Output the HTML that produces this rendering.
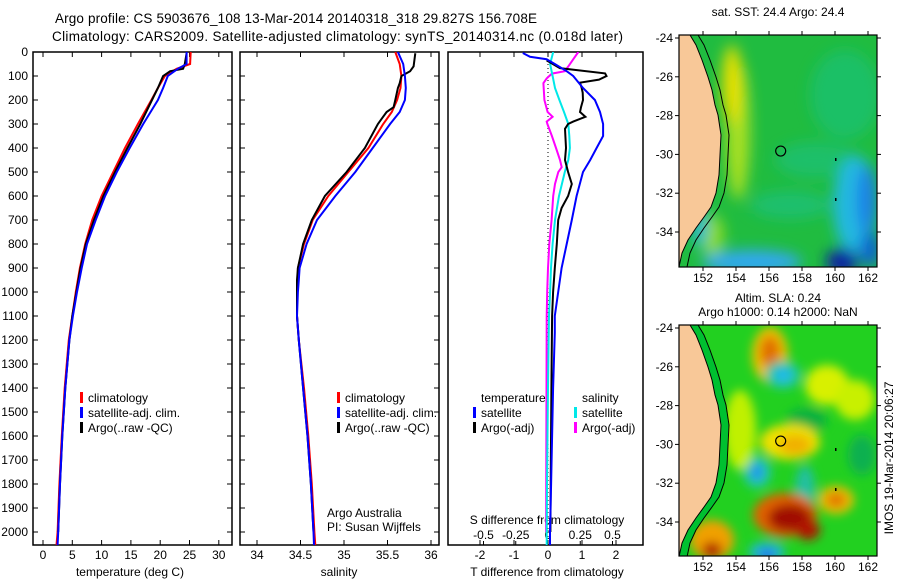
<!DOCTYPE html>
<html><head><meta charset="utf-8"><style>
html,body{margin:0;padding:0;background:#fff}
svg{display:block;font-family:"Liberation Sans",sans-serif}
text{font-size:12px;fill:#000}
</style></head><body>
<svg id="fig" width="900" height="580" viewBox="0 0 900 580">
<defs>
<filter id="blur1" x="-50%" y="-50%" width="200%" height="200%"><feGaussianBlur stdDeviation="7"/></filter>
<filter id="blur2" x="-50%" y="-50%" width="200%" height="200%"><feGaussianBlur stdDeviation="5"/></filter>
<clipPath id="cm1"><rect x="679" y="35" width="198" height="232"/></clipPath>
<clipPath id="cm2"><rect x="679" y="325" width="198" height="231"/></clipPath>
<clipPath id="cp1"><rect x="33" y="52" width="199" height="493"/></clipPath>
<clipPath id="cp2"><rect x="240" y="52" width="199" height="493"/></clipPath>
<clipPath id="cp3"><rect x="448" y="52" width="195" height="493"/></clipPath>
</defs>
<text x="55" y="23" style="font-size:13.5px" textLength="482">Argo profile: CS 5903676_108 13-Mar-2014 20140318_318 29.827S 156.708E</text>
<text x="52" y="41" style="font-size:13.5px" textLength="571">Climatology: CARS2009. Satellite-adjusted climatology: synTS_20140314.nc (0.018d later)</text>

<g id="p1"></g>
<g id="p2"></g>
<g id="p3"></g>

<!-- Map 1: SST -->
<g>
<text x="778" y="16" text-anchor="middle">sat. SST: 24.4  Argo: 24.4</text>
<g clip-path="url(#cm1)">
<rect x="679" y="35" width="198" height="232" fill="#20bc40"/>
<g filter="url(#blur1)">
<ellipse cx="845" cy="95" rx="35" ry="45" fill="#18c070" opacity="0.8"/>
<ellipse cx="815" cy="160" rx="40" ry="18" fill="#18c07a" opacity="0.7"/>
<ellipse cx="790" cy="205" rx="40" ry="14" fill="#18c080" opacity="0.7"/>
<ellipse cx="855" cy="205" rx="22" ry="50" fill="#20b8e0"/>
<ellipse cx="867" cy="200" rx="10" ry="35" fill="#1a80e8"/>
<ellipse cx="752" cy="262" rx="50" ry="12" fill="#30a8f0"/>
<ellipse cx="842" cy="262" rx="16" ry="14" fill="#0a20a0"/>
<ellipse cx="870" cy="250" rx="10" ry="18" fill="#1060d0"/>
<ellipse cx="738" cy="130" rx="12" ry="70" fill="#a8e020"/>
<ellipse cx="732" cy="85" rx="10" ry="40" fill="#e8e000"/>
<ellipse cx="712" cy="235" rx="12" ry="20" fill="#90dc20"/>
<ellipse cx="700" cy="228" rx="8" ry="20" fill="#20b8d0"/>
</g>
</g>
</g>
<!-- Map 2: SLA -->
<g>
<text x="778" y="302" text-anchor="middle">Altim. SLA: 0.24</text>
<text x="778" y="316" text-anchor="middle">Argo h1000: 0.14 h2000: NaN</text>
<g clip-path="url(#cm2)">
<rect x="679" y="325" width="198" height="231" fill="#22d020"/>
<g filter="url(#blur2)">
<ellipse cx="770" cy="355" rx="18" ry="28" fill="#f0c000"/>
<ellipse cx="770" cy="352" rx="10" ry="16" fill="#e07000"/>
<ellipse cx="827" cy="385" rx="22" ry="20" fill="#d8f000"/>
<ellipse cx="783" cy="375" rx="18" ry="14" fill="#20c8a0"/>
<ellipse cx="783" cy="375" rx="8" ry="7" fill="#20b8f0"/>
<ellipse cx="807" cy="420" rx="20" ry="12" fill="#10b040"/>
<ellipse cx="790" cy="442" rx="30" ry="18" fill="#f0e000"/>
<ellipse cx="795" cy="445" rx="16" ry="10" fill="#f0b000"/>
<ellipse cx="757" cy="472" rx="14" ry="16" fill="#20c8b0"/>
<ellipse cx="757" cy="472" rx="6" ry="8" fill="#2090f0"/>
<ellipse cx="805" cy="490" rx="10" ry="25" fill="#20c0a0"/>
<ellipse cx="836" cy="500" rx="18" ry="14" fill="#f0c000"/>
<ellipse cx="836" cy="500" rx="10" ry="7" fill="#e07000"/>
<ellipse cx="785" cy="515" rx="32" ry="22" fill="#e06000"/>
<ellipse cx="790" cy="518" rx="22" ry="14" fill="#a01000"/>
<ellipse cx="808" cy="530" rx="12" ry="10" fill="#b01800"/>
<ellipse cx="712" cy="540" rx="22" ry="20" fill="#f0a000"/>
<ellipse cx="712" cy="550" rx="10" ry="8" fill="#b02000"/>
<ellipse cx="767" cy="552" rx="18" ry="10" fill="#20b8d0"/>
<ellipse cx="767" cy="555" rx="8" ry="6" fill="#2070f0"/>
<ellipse cx="862" cy="455" rx="14" ry="20" fill="#10b050"/>
<ellipse cx="855" cy="400" rx="20" ry="20" fill="#c8f000"/>
<ellipse cx="740" cy="430" rx="16" ry="40" fill="#c0f000"/>
</g>
</g>
</g>
<g id="maps"></g>
<text transform="translate(893,458) rotate(-90)" text-anchor="middle">IMOS 19-Mar-2014 20:06:27</text>

<script>
// ---- data ----
const depthTicks=[0,100,200,300,400,500,600,700,800,900,1000,1100,1200,1300,1400,1500,1600,1700,1800,1900,2000];
const tempTicks=[0,5,10,15,20,25,30];
const salTicks=[34,34.5,35,35.5,36];
const salTickLabels=["34","34.5","35","35.5","36"];
const tdiffTicks=[-2,-1,0,1,2];
const sdiffTicks=[-0.5,-0.25,0,0.25,0.5];
const sdiffTickLabels=["-0.5","-0.25","0","0.25","0.5"];

const depthClimT=[0,50,70,100,150,200,300,400,500,600,700,800,900,1000,1100,1200,1400,1600,1800,2000,2054];
const tempClim=[25.2,25.1,22.8,20.8,19.6,18.5,16.2,14.0,12.0,10.0,8.4,7.2,6.3,5.6,5.0,4.4,3.7,3.2,2.8,2.5,2.3];
const tempSat=[24.5,24.5,23.0,21.3,20.5,19.6,17.1,14.8,12.6,10.6,9.0,7.5,6.6,5.8,5.1,4.5,3.8,3.3,2.9,2.6,2.5];
const depthArgoT=[5,50,70,80,100,150,200,300,400,500,600,700,800,900,1000,1100,1200,1400,1600,1800,2000];
const tempArgo=[24.5,24.2,23.9,21.7,20.5,19.6,18.6,16.6,14.4,12.3,10.3,8.7,7.3,6.4,5.7,5.0,4.5,3.8,3.3,2.9,2.6];

const depthClimS=[0,50,100,150,200,250,300,400,500,600,700,800,900,950,1000,1100,1200,1400,1600,1800,2000,2054];
const salClim=[35.59,35.64,35.66,35.65,35.61,35.55,35.45,35.28,35.05,34.82,34.64,34.54,34.47,34.47,34.46,34.46,34.48,34.54,34.59,34.63,34.66,34.67];
const salSat=[35.62,35.68,35.70,35.71,35.70,35.64,35.53,35.33,35.13,34.90,34.69,34.57,34.49,34.48,34.47,34.46,34.48,34.53,34.58,34.62,34.65,34.655];
const depthArgoS=[5,60,80,100,130,150,200,230,250,300,400,500,600,700,800,900,950,1000,1100,1200,1400,1600,1800,2000];
const salArgo=[35.82,35.80,35.76,35.66,35.64,35.62,35.59,35.57,35.49,35.39,35.24,35.03,34.78,34.63,34.53,34.47,34.46,34.46,34.46,34.48,34.53,34.58,34.62,34.65];

const depthTdSat=[4,20,30,50,80,100,150,200,250,300,350,400,450,500,600,700,800,900,1000,1100,1170,1400,1600,1800,2000,2054];
const tdiffSat=[-0.74,-0.53,-0.04,0.2,0.55,0.74,1.03,1.38,1.53,1.62,1.62,1.43,1.24,1.03,0.84,0.7,0.55,0.4,0.3,0.2,0.2,0.15,0.12,0.09,0.06,0.06];
const depthTdArgo=[35,67,89,100,115,128,150,170,200,230,250,270,290,300,320,400,450,500,550,600,650,700,800,900,1000,1100,1400,1800,2000];
const tdiffArgo=[-0.04,0.35,1.68,1.72,1.5,0.94,0.99,1.02,1.03,0.97,0.94,1.1,0.74,0.59,0.5,0.53,0.5,0.59,0.7,0.59,0.4,0.3,0.26,0.2,0.15,0.12,0.1,0.08,0.07];
const depthSdSat=[0,50,100,150,200,250,300,350,400,450,500,600,700,800,900,1000,1100,1400,1800,2054];
const sdiffSat=[0.04,0.016,0.036,0.054,0.088,0.124,0.157,0.165,0.17,0.157,0.13,0.085,0.054,0.036,0.023,0.016,0.008,0.0,-0.008,-0.01];
const depthSdArgo=[0,30,60,80,90,110,130,200,250,270,290,300,350,400,450,480,500,550,600,700,800,900,1000,1100,1400,2000];
const sdiffArgo=[0.235,0.196,0.157,0.13,0.03,-0.01,-0.036,-0.028,-0.003,0.036,-0.01,-0.005,0.03,0.062,0.093,0.106,0.08,0.054,0.04,0.028,0.01,0.0,-0.006,-0.01,-0.012,-0.015];

// ---- axes ----
const yD=d=>52+d*0.24;
const xT=t=>43+t*5.86;
const xS=s=>257+(s-34)*87;
const xTd=t=>548+t*34;
const xSd=s=>548+s*129;
const NS='http://www.w3.org/2000/svg';
function mk(tag,attrs,parent){const e=document.createElementNS(NS,tag);for(const k in attrs)e.setAttribute(k,attrs[k]);parent.appendChild(e);return e;}

function frame(g,x0,x1){
  const r=mk('rect',{x:x0,y:52,width:x1-x0,height:493,fill:'none',stroke:'#000','stroke-width':1.5},g);
  
  
  depthTicks.forEach(d=>{
    mk('line',{x1:x0,x2:x0+5,y1:yD(d),y2:yD(d),stroke:'#000'},g);
    mk('line',{x1:x1-5,x2:x1,y1:yD(d),y2:yD(d),stroke:'#000'},g);
  });
}
function line(g,xs,ds,fx,col,w,name,clip){
  const pts=xs.map((v,i)=>fx(v).toFixed(1)+','+yD(ds[i]).toFixed(1)).join(' ');
  const p=mk('polyline',{points:pts,fill:'none',stroke:col,'stroke-width':w,'stroke-linejoin':'miter','clip-path':'url(#'+clip+')'},g);
  
  
}
function txt(g,x,y,s,anchor,name){const t=mk('text',{x:x,y:y,'text-anchor':anchor||'start'},g);t.textContent=s;
  
  
  return t;}
function legend(g,x,y,col,label){
  mk('rect',{x:x,y:y-10,width:3,height:11,fill:col},g);
  txt(g,x+8,y,label,'start','legend-entry');
}

// Panel 1
const p1=document.getElementById('p1');
frame(p1,33,232);
depthTicks.forEach(d=>txt(p1,28,yD(d)+4,String(d),'end','depth-tick-label'));
tempTicks.forEach(t=>{mk('line',{x1:xT(t),x2:xT(t),y1:545,y2:540,stroke:'#000'},p1);mk('line',{x1:xT(t),x2:xT(t),y1:52,y2:57,stroke:'#000'},p1);txt(p1,xT(t),559,String(t),'middle','temperature-tick-label');});
txt(p1,130,576,'temperature (deg C)','middle','temperature-axis-title');
line(p1,tempClim,depthClimT,xT,'#ff0000',2,'temp-climatology-line','cp1');
line(p1,tempArgo,depthArgoT,xT,'#000000',2,'temp-argo-line','cp1');
line(p1,tempSat,depthClimT,xT,'#0000ff',2,'temp-satellite-line','cp1');
legend(p1,80,402,'#ff0000','climatology');
legend(p1,80,417,'#0000ff','satellite-adj. clim.');
legend(p1,80,432,'#000000','Argo(..raw -QC)');

// Panel 2
const p2=document.getElementById('p2');
frame(p2,240,439);
salTicks.forEach((s,i)=>{mk('line',{x1:xS(s),x2:xS(s),y1:545,y2:540,stroke:'#000'},p2);mk('line',{x1:xS(s),x2:xS(s),y1:52,y2:57,stroke:'#000'},p2);txt(p2,xS(s),559,salTickLabels[i],'middle','salinity-tick-label');});
txt(p2,339,576,'salinity','middle','salinity-axis-title');
line(p2,salClim,depthClimS,xS,'#ff0000',2,'sal-climatology-line','cp2');
line(p2,salArgo,depthArgoS,xS,'#000000',2,'sal-argo-line','cp2');
line(p2,salSat,depthClimS,xS,'#0000ff',2,'sal-satellite-line','cp2');
legend(p2,337,402,'#ff0000','climatology');
legend(p2,337,417,'#0000ff','satellite-adj. clim.');
legend(p2,337,432,'#000000','Argo(..raw -QC)');
txt(p2,327,517,'Argo Australia','start','credit-argo-australia');
txt(p2,327,531,'PI: Susan Wijffels','start','credit-pi');

// Panel 3
const p3=document.getElementById('p3');
const fr=mk('rect',{x:448,y:52,width:195,height:493,fill:'none',stroke:'#000','stroke-width':1.5},p3);
mk('line',{x1:xTd(0),x2:xTd(0),y1:52,y2:545,stroke:'#000','stroke-dasharray':'1,3'},p3);
tdiffTicks.forEach(t=>{mk('line',{x1:xTd(t),x2:xTd(t),y1:545,y2:540,stroke:'#000'},p3);mk('line',{x1:xTd(t),x2:xTd(t),y1:52,y2:57,stroke:'#000'},p3);txt(p3,xTd(t),559,String(t),'middle','tdiff-tick-label');});
sdiffTicks.forEach((s,i)=>{mk('line',{x1:xSd(s),x2:xSd(s),y1:545,y2:541,stroke:'#000'},p3);txt(p3,xSd(s),539,sdiffTickLabels[i],'middle','sdiff-tick-label');});
txt(p3,547,576,'T difference from climatology','middle','tdiff-axis-title');
txt(p3,547,524,'S difference from climatology','middle','sdiff-axis-title');
line(p3,sdiffArgo,depthSdArgo,xSd,'#ff00ff',2,'sdiff-argo-line','cp3');
line(p3,sdiffSat,depthSdSat,xSd,'#00e8e8',2,'sdiff-satellite-line','cp3');
line(p3,tdiffArgo,depthTdArgo,xTd,'#000000',2,'tdiff-argo-line','cp3');
line(p3,tdiffSat,depthTdSat,xTd,'#0000ff',2,'tdiff-satellite-line','cp3');
txt(p3,481,402,'temperature','start','legend-title-temperature');
legend(p3,473,417,'#0000ff','satellite');
legend(p3,473,432,'#000000','Argo(-adj)');
txt(p3,582,402,'salinity','start','legend-title-salinity');
legend(p3,574,417,'#00e8e8','satellite');
legend(p3,574,432,'#ff00ff','Argo(-adj)');

// Maps: land, coast, axes
const lons=[152,154,156,158,160,162];
const lats=[-24,-26,-28,-30,-32,-34];
const maps=document.getElementById('maps');
const argoLon=156.708, argoLat=-29.827;
[35,325].forEach((top,mi)=>{
  const g=mk('g',{'clip-path':'url(#cm'+(mi+1)+')'},maps);
  const xL=l=>703+(l-152)*16.5;
  const yL=la=>top+3+(-24-la)*19.4;
  const coast=[[690,0],[696,10],[702,25],[708,42],[712,55],[715,70],[718,80],[721,100],[720,120],[719,140],[716,158],[711,172],[704,182],[696,193],[688,205],[682,218],[679,232]];
  const land=coast.map(p=>p[0]+','+(p[1]+top)).join(' ')+' 679,'+(top+232)+' 679,'+top;
  mk('polygon',{points:land,fill:'#f8c898'},g);
  if(mi===1){mk('polyline',{points:coast.map(p=>(p[0]+4)+','+(p[1]+top)).join(' '),fill:'none',stroke:'#00c030','stroke-width':7},g);}
  mk('polyline',{points:coast.map(p=>p[0]+','+(p[1]+top)).join(' '),fill:'none',stroke:'#000','stroke-width':1},g);
  mk('polyline',{points:coast.map(p=>(p[0]+8)+','+(p[1]+top)).join(' '),fill:'none',stroke:'#000','stroke-width':1},g);
  mk('circle',{cx:xL(argoLon),cy:yL(argoLat),r:5,fill:'none',stroke:'#000','stroke-width':1.2},g);
  mk('rect',{x:835,y:top+123,width:1.5,height:3,fill:'#000'},g);
  mk('rect',{x:835,y:top+163,width:1.5,height:3,fill:'#000'},g);
  const b=mk('rect',{x:679,y:top,width:198,height:(mi?231:232),fill:'none',stroke:'#000','stroke-width':1.2},maps);
  
  
  const bottom=top+(mi?231:232);
  lons.forEach(l=>{mk('line',{x1:xL(l),x2:xL(l),y1:top,y2:top-4,stroke:'#000'},maps);mk('line',{x1:xL(l),x2:xL(l),y1:bottom,y2:bottom+4,stroke:'#000'},maps);txt(maps,xL(l),bottom+15,String(l),'middle','lon-tick-label');});
  lats.forEach(la=>{mk('line',{x1:679,x2:675,y1:yL(la),y2:yL(la),stroke:'#000'},maps);mk('line',{x1:877,x2:881,y1:yL(la),y2:yL(la),stroke:'#000'},maps);txt(maps,673,yL(la)+4,String(la),'end','lat-tick-label');});
});
</script>
</svg>
</body></html>
